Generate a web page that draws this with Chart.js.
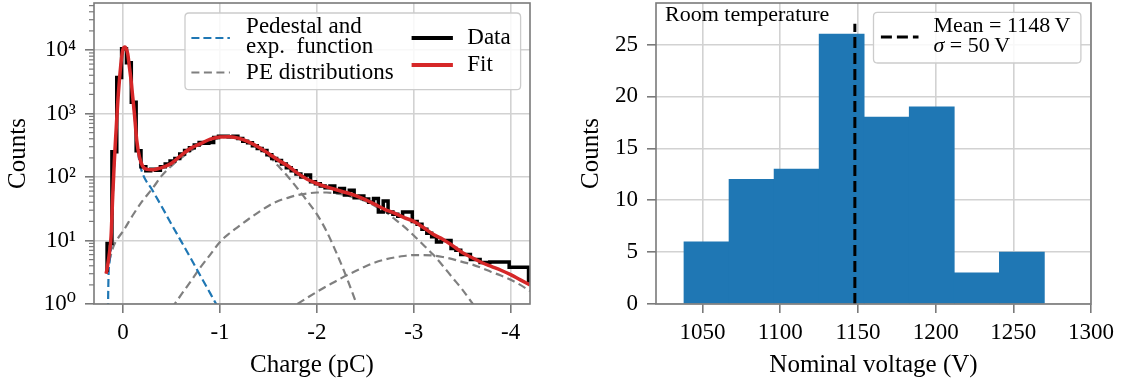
<!DOCTYPE html>
<html>
<head>
<meta charset="utf-8">
<script src="https://cdn.jsdelivr.net/npm/chart.js@4.4.1/dist/chart.umd.min.js"></script>
<style>
  html, body { margin: 0; padding: 0; background: #fff; }
  #wrap { position: relative; width: 1123px; height: 388px; }
  #left { position: absolute; left: 0; top: 0; }
  #right { position: absolute; left: 560px; top: 0; }
</style>
</head>
<body>
<div id="wrap">
  <canvas id="left" width="560" height="388"></canvas>
  <canvas id="right" width="563" height="388"></canvas>
</div>
<script>
// ---- left panel: charge spectrum ----
const chargeBinStart = 0.165;
const chargeBinWidth = 0.05;
const chargeFirstLevel = 3.2;
const chargeCounts = [
  9, 250, 3700, 10500, 6300, 1500, 260, 145, 125, 133,
  128, 145, 160, 178, 195, 230, 262, 290, 320, 350,
  340, 350, 420, 440, 438, 432, 440, 405, 365, 345,
  310, 280, 262, 225, 195, 182, 160, 140, 125, 112,
  100, 108, 84, 78, 72, 68, 72, 58, 66, 52,
  62, 47, 50, 45, 40, 46, 28, 42, 28, 26,
  24, 28, 28, 20, 18, 15, 13, 11.5, 9.5, 10,
  10, 7.5, 7, 6, 6, 5, 5, 4.5, 4.5, 4.6,
  4.6, 4.6, 4.6, 3.8, 3.8, 3.8, 3.8, 2.3
];

const fitX = [0.175, 0.165, 0.14, 0.124, 0.107, 0.09, 0.072, 0.055, 0.038, 0.02,
  0.003, -0.02, -0.048, -0.065, -0.083, -0.1, -0.117, -0.141, -0.169, -0.2,
  -0.25, -0.3, -0.35, -0.4, -0.5, -0.6, -0.7, -0.8, -0.9, -1.0,
  -1.1, -1.2, -1.3, -1.4, -1.5, -1.6, -1.7, -1.8, -1.9, -2.0,
  -2.1, -2.2, -2.3, -2.4, -2.5, -2.6, -2.7, -2.8, -2.9, -3.0,
  -3.1, -3.2, -3.3, -3.4, -3.5, -3.6, -3.7, -3.8, -3.9, -4.0,
  -4.1, -4.2];
const fitY = [3.0, 3.6, 6.5, 11.5, 49, 180, 545, 1500, 3300, 6500,
  10000, 11200, 8700, 5500, 3300, 1800, 1000, 380, 207, 150,
  132, 130, 134, 140, 165, 220, 285, 335, 395, 427,
  430, 405, 355, 295, 235, 185, 150, 115, 92, 79,
  70, 63, 57, 51, 44, 37, 31, 27, 23, 20,
  16, 12.5, 10.5, 8.3, 6.5, 5.4, 4.5, 3.9, 3.4, 2.9,
  2.4, 2.0];

const pedX = [0.158, 0.15, 0.14, 0.124, 0.107, 0.09, 0.072, 0.055, 0.038, 0.02,
  0.003, -0.02, -0.048, -0.065, -0.083, -0.1, -0.117, -0.141, -0.169, -0.2,
  -0.3, -0.4, -0.5, -0.6, -0.7, -0.8, -0.9, -1.0];
const pedY = [0.5, 2.8, 4.5, 8, 40, 170, 530, 1490, 3290, 6490,
  9990, 11190, 8690, 5490, 3290, 1790, 985, 355, 175, 115,
  63, 34, 18, 9.7, 5.2, 2.75, 1.47, 0.78];

const pe1X = [0.175, 0.1, 0.05, 0, -0.1, -0.2, -0.3, -0.4, -0.5, -0.6,
  -0.7, -0.8, -0.9, -1.0, -1.05, -1.1, -1.2, -1.3, -1.4, -1.5,
  -1.6, -1.7, -1.8, -1.9, -2.0, -2.1, -2.2, -2.3, -2.4];
const pe1Y = [3.0, 8, 11, 14, 25, 42, 65, 105, 150, 200,
  260, 320, 375, 415, 425, 420, 398, 347, 285, 219,
  150, 102, 66, 42, 26, 14, 6.5, 2.8, 1.1];

const pe2X = [-0.5, -0.6, -0.7, -0.8, -0.9, -1.0, -1.1, -1.2, -1.3, -1.4,
  -1.5, -1.6, -1.7, -1.8, -1.9, -2.0, -2.1, -2.2, -2.3, -2.4,
  -2.5, -2.6, -2.7, -2.8, -2.9, -3.0, -3.1, -3.2, -3.3, -3.4,
  -3.5, -3.6, -3.7];
const pe2Y = [0.85, 1.4, 2.3, 3.8, 6, 9.5, 13, 17, 22, 28,
  35, 42, 47, 52, 55, 57, 57, 55, 52, 47,
  42, 35, 29, 22, 16.5, 12, 8.5, 6, 4, 2.6,
  1.7, 1.05, 0.65];

const pe3X = [-1.8, -1.9, -2.0, -2.1, -2.2, -2.3, -2.4, -2.5, -2.6, -2.7,
  -2.8, -2.9, -3.0, -3.1, -3.2, -3.3, -3.4, -3.5, -3.6, -3.7,
  -3.8, -3.9, -4.0, -4.1, -4.2];
const pe3Y = [1.0, 1.25, 1.55, 1.9, 2.3, 2.8, 3.3, 3.9, 4.5, 5.0,
  5.4, 5.7, 5.9, 5.9, 5.8, 5.5, 5.1, 4.6, 4.2, 3.7,
  3.2, 2.8, 2.4, 2.0, 1.6];

const logTicks = [1, 10, 100, 1000, 10000];
const logTickLabels = ["10\u2070", "10\u00B9", "10\u00B2", "10\u00B3", "10\u2074"];

// ---- right panel: nominal voltage histogram ----
const voltageEdges = [1038, 1067, 1096, 1125, 1154, 1183, 1212, 1241, 1270];
const voltageCounts = [6, 12, 13, 26, 18, 19, 3, 5];
const meanVoltage = 1148;
const meanLineTop = 27;

const BLUE = "#1f77b4";
const RED = "#d62728";
const GRAY = "#7f7f7f";
const GRID = "#d2d2d2";
const SPINE = "#7a7a7a";
const SERIF = "'Liberation Serif', 'DejaVu Serif', serif";

Chart.defaults.font.family = SERIF;
Chart.defaults.color = "#000";

function pts(xs, ys) {
  return xs.map((x, i) => ({ x, y: ys[i] }));
}

const stepPoints = [{ x: chargeBinStart, y: chargeFirstLevel }];
chargeCounts.forEach((c, i) => stepPoints.push({ x: chargeBinStart - i * chargeBinWidth, y: c }));
stepPoints.push({ x: chargeBinStart - chargeCounts.length * chargeBinWidth, y: chargeCounts[chargeCounts.length - 1] });

const histBars = voltageCounts.map((c, i) => ({ x: (voltageEdges[i] + voltageEdges[i + 1]) / 2, y: c }));

function roundRect(ctx, x, y, w, h, r) {
  ctx.beginPath();
  ctx.moveTo(x + r, y);
  ctx.lineTo(x + w - r, y);
  ctx.quadraticCurveTo(x + w, y, x + w, y + r);
  ctx.lineTo(x + w, y + h - r);
  ctx.quadraticCurveTo(x + w, y + h, x + w - r, y + h);
  ctx.lineTo(x + r, y + h);
  ctx.quadraticCurveTo(x, y + h, x, y + h - r);
  ctx.lineTo(x, y + r);
  ctx.quadraticCurveTo(x, y, x + r, y);
  ctx.closePath();
}

function handle(ctx, x0, x1, y, color, dash, width) {
  ctx.save();
  ctx.strokeStyle = color;
  ctx.lineWidth = width;
  ctx.setLineDash(dash);
  ctx.beginPath();
  ctx.moveTo(x0, y);
  ctx.lineTo(x1, y);
  ctx.stroke();
  ctx.restore();
}

function legendBox(ctx, x, y, w, h) {
  roundRect(ctx, x, y, w, h, 4);
  ctx.fillStyle = "rgba(255,255,255,0.85)";
  ctx.fill();
  ctx.strokeStyle = "#cccccc";
  ctx.lineWidth = 1.3;
  ctx.stroke();
}

// y labels must not push the plot area down or up
function fixY(width) {
  return s => { s.width = width; s.paddingTop = 0; s.paddingBottom = 0; };
}
function fixX(s) {
  s.height = 84;
  s.paddingLeft = 0;
  s.paddingRight = 0;
}

const frame = {
  id: "frame",
  afterDatasetsDraw(chart) {
    const { ctx, chartArea: a } = chart;
    ctx.save();
    ctx.strokeStyle = SPINE;
    ctx.lineWidth = 1.6;
    ctx.strokeRect(a.left, a.top, a.right - a.left, a.bottom - a.top);
    ctx.restore();
  }
};

const minorTicks = {
  id: "minorTicks",
  afterDraw(chart) {
    const { ctx, chartArea: a } = chart;
    const y = chart.scales.y;
    ctx.save();
    ctx.strokeStyle = SPINE;
    ctx.lineWidth = 1.2;
    for (let d = 1; d <= 10000; d *= 10) {
      for (let m = 2; m < 10; m++) {
        const v = m * d;
        if (v > y.max) break;
        const py = y.getPixelForValue(v);
        ctx.beginPath();
        ctx.moveTo(a.left - 5, py);
        ctx.lineTo(a.left, py);
        ctx.stroke();
      }
    }
    ctx.restore();
  }
};

const chargeLegend = {
  id: "chargeLegend",
  afterDraw(chart) {
    const { ctx, chartArea: a } = chart;
    const r = a.right, t = a.top;
    ctx.save();
    legendBox(ctx, r - 345, t + 10, 335.6, 76.7);
    handle(ctx, r - 338.6, r - 300.1, t + 35, BLUE, [8, 4], 2.2);
    handle(ctx, r - 338.6, r - 300.1, t + 69.5, GRAY, [8, 4.5], 2.2);
    handle(ctx, r - 118.4, r - 77.1, t + 35, "#000", [], 3.8);
    handle(ctx, r - 118.4, r - 77.1, t + 62, RED, [], 3.8);
    ctx.fillStyle = "#000";
    ctx.font = "23px " + SERIF;
    ctx.textBaseline = "middle";
    ctx.fillText("Pedestal and", r - 283.9, t + 23.5);
    ctx.fillText("exp.  function", r - 283.9, t + 44);
    ctx.fillText("PE distributions", r - 283.9, t + 70);
    ctx.fillText("Data", r - 62.7, t + 35);
    ctx.fillText("Fit", r - 62.7, t + 62);
    ctx.restore();
  }
};

const voltageLegend = {
  id: "voltageLegend",
  afterDraw(chart) {
    const { ctx, chartArea: a } = chart;
    const r = a.right, t = a.top;
    ctx.save();
    legendBox(ctx, r - 217.5, t + 9.4, 207.4, 50.6);
    handle(ctx, r - 210.1, r - 172.5, t + 34, "#000", [11, 5], 3);
    ctx.fillStyle = "#000";
    ctx.textBaseline = "middle";
    ctx.font = "22px " + SERIF;
    const tx = r - 157.5;
    ctx.fillText("Mean = 1148\u2009V", tx, t + 23.4);
    ctx.font = "italic 22px " + SERIF;
    ctx.fillText("\u03C3", tx, t + 43.4);
    const w = ctx.measureText("\u03C3").width;
    ctx.font = "22px " + SERIF;
    ctx.fillText(" = 50\u2009V", tx + w, t + 43.4);
    ctx.fillText("Room temperature", a.left + 9, t + 12);
    ctx.restore();
  }
};

function gridOpts() {
  return { color: GRID, lineWidth: 1.6, tickLength: 9, tickColor: SPINE, tickWidth: 1.6 };
}

new Chart(document.getElementById("left"), {
  type: "line",
  data: {
    datasets: [
      { label: "Fit", data: pts(fitX, fitY), borderColor: RED, borderWidth: 3.5,
        pointRadius: 0, cubicInterpolationMode: "monotone", order: 0 },
      { label: "Data", data: stepPoints, borderColor: "#000", borderWidth: 3.5,
        pointRadius: 0, stepped: "before", order: 1 },
      { label: "Pedestal and exp. function", data: pts(pedX, pedY), borderColor: BLUE, borderWidth: 2.2,
        borderDash: [8, 4], pointRadius: 0, cubicInterpolationMode: "monotone", order: 2 },
      { label: "PE distributions", data: pts(pe1X, pe1Y), borderColor: GRAY, borderWidth: 2.2,
        borderDash: [8, 4.5], pointRadius: 0, cubicInterpolationMode: "monotone", order: 3 },
      { label: "PE 2", data: pts(pe2X, pe2Y), borderColor: GRAY, borderWidth: 2.2,
        borderDash: [8, 4.5], pointRadius: 0, cubicInterpolationMode: "monotone", order: 3 },
      { label: "PE 3", data: pts(pe3X, pe3Y), borderColor: GRAY, borderWidth: 2.2,
        borderDash: [8, 4.5], pointRadius: 0, cubicInterpolationMode: "monotone", order: 3 }
    ]
  },
  options: {
    responsive: false,
    animation: false,
    layout: { padding: { top: 3, right: 30, bottom: 0, left: 0 } },
    plugins: { legend: { display: false }, tooltip: { enabled: false } },
    scales: {
      x: {
        type: "linear", reverse: true, min: -4.2, max: 0.3,
        border: { display: false },
        grid: gridOpts(),
        ticks: { stepSize: 1, includeBounds: false, padding: 6, font: { size: 23 }, maxRotation: 0,
                 callback: v => String(v) },
        title: { display: true, text: "Charge (pC)", font: { size: 25 }, padding: { top: 0, bottom: 8 } },
        afterFit: fixX
      },
      y: {
        type: "logarithmic", min: 1, max: 55000,
        border: { display: false },
        grid: gridOpts(),
        afterBuildTicks: s => { s.ticks = logTicks.map(v => ({ value: v })); },
        ticks: { padding: 9, font: { size: 23 }, autoSkip: false, callback: (v, i) => logTickLabels[i] },
        title: { display: true, text: "Counts", font: { size: 25 }, padding: { top: 3, bottom: 0 } },
        afterFit: fixY(94)
      }
    }
  },
  plugins: [frame, minorTicks, chargeLegend]
});

new Chart(document.getElementById("right"), {
  type: "bar",
  data: {
    datasets: [
      { type: "line", label: "Mean = 1148 V", data: [{ x: meanVoltage, y: 0 }, { x: meanVoltage, y: meanLineTop }],
        borderColor: "#000", borderWidth: 3, borderDash: [11, 5], pointRadius: 0, order: 0 },
      { type: "bar", label: "Counts", data: histBars, backgroundColor: BLUE, borderWidth: 0,
        barPercentage: 1, categoryPercentage: 1, order: 1 }
    ]
  },
  options: {
    responsive: false,
    animation: false,
    layout: { padding: { top: 3, right: 32, bottom: 0, left: 0 } },
    plugins: { legend: { display: false }, tooltip: { enabled: false } },
    scales: {
      x: {
        type: "linear", min: 1020, max: 1300, offset: false,
        border: { display: false },
        grid: Object.assign(gridOpts(), { offset: false }),
        ticks: { stepSize: 50, includeBounds: false, padding: 6, font: { size: 23 }, maxRotation: 0,
                 callback: v => String(v) },
        title: { display: true, text: "Nominal voltage (V)", font: { size: 25 }, padding: { top: 0, bottom: 8 } },
        afterFit: fixX
      },
      y: {
        min: 0, max: 29,
        border: { display: false },
        grid: gridOpts(),
        ticks: { stepSize: 5, includeBounds: false, padding: 9, font: { size: 23 } },
        title: { display: true, text: "Counts", font: { size: 25 }, padding: { top: 16, bottom: 0 } },
        afterFit: fixY(96)
      }
    }
  },
  plugins: [frame, voltageLegend]
});
</script>
</body>
</html>
